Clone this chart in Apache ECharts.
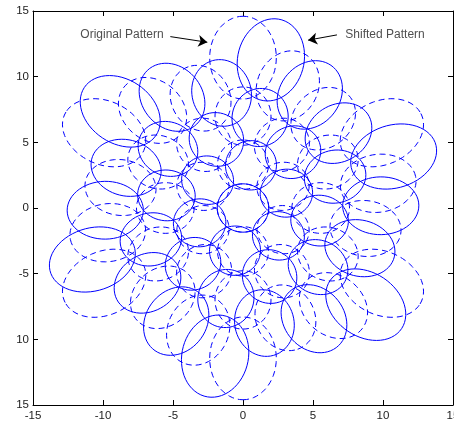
<!DOCTYPE html>
<html><head><meta charset="utf-8">
<script src="https://cdn.jsdelivr.net/npm/echarts@6/dist/echarts.min.js"></script>
<style>html,body{margin:0;padding:0;background:#fff;}#c{width:454px;height:421px;}</style>
</head><body><div id="c"></div>
<script>
// Axis ticks
const xTicks = [-15, -10, -5, 0, 5, 10, 15];
const xTickLabels = ['-15', '-10', '-5', '0', '5', '10', '15'];
const yTicks = [-15, -10, -5, 0, 5, 10, 15];
const yTickLabels = ['15', '10', '-5', '0', '5', '10', '15'];

// Shifted pattern (solid ellipses): centre, radial / tangential semi-axes, radial direction (deg)
const shiftedX = [0,
  3.10, 0.57, -2.53, -3.10, -0.57, 2.53,
  6.58, 1.22, -5.36, -6.58, -1.22, 5.36,
  3.57, -1.90, -5.47, -3.57, 1.90, 5.47,
  10.76, 1.99, -8.77, -10.76, -1.99, 8.77,
  6.82, -1.53, -8.35, -6.82, 1.53, 8.35,
  4.77, -5.07, -9.84, -4.77, 5.07, 9.84];
const shiftedY = [0,
  1.13, 3.25, 2.12, -1.13, -3.25, -2.12,
  2.39, 6.89, 4.50, -2.39, -6.89, -4.50,
  4.25, 5.22, 0.96, -4.25, -5.22, -0.96,
  3.92, 11.28, 7.36, -3.92, -11.28, -7.36,
  5.70, 8.76, 3.06, -5.70, -8.76, -3.06,
  8.61, 8.43, -0.17, -8.61, -8.43, 0.17];
const shiftedRadial = [1.84,
  1.88, 1.88, 1.88, 1.88, 1.88, 1.88,
  2.22, 2.22, 2.22, 2.22, 2.22, 2.22,
  2.06, 2.06, 2.06, 2.06, 2.06, 2.06,
  3.15, 3.15, 3.15, 3.15, 3.15, 3.15,
  2.55, 2.55, 2.55, 2.55, 2.55, 2.55,
  2.72, 2.72, 2.72, 2.72, 2.72, 2.72];
const shiftedTangential = [1.84,
  1.82, 1.82, 1.82, 1.82, 1.82, 1.82,
  2.00, 2.00, 2.00, 2.00, 2.00, 2.00,
  1.93, 1.93, 1.93, 1.93, 1.93, 1.93,
  2.38, 2.38, 2.38, 2.38, 2.38, 2.38,
  2.12, 2.12, 2.12, 2.12, 2.12, 2.12,
  2.20, 2.20, 2.20, 2.20, 2.20, 2.20];
const shiftedAngle = [0,
  20, 80, 140, 200, 260, 320,
  20, 80, 140, 200, 260, 320,
  50, 110, 170, 230, 290, 350,
  20, 80, 140, 200, 260, 320,
  40, 100, 160, 220, 280, 340,
  61, 121, 181, 241, 301, 1];

// Original pattern (dashed ellipses)
const originalX = [0,
  2.86, 0, -2.86, -2.86, 0, 2.86,
  6.06, 0, -6.06, -6.06, 0, 6.06,
  2.78, -2.78, -5.55, -2.78, 2.78, 5.55,
  9.92, 0, -9.92, -9.92, 0, 9.92,
  5.73, -3.03, -8.75, -5.73, 3.03, 8.75,
  3.20, -6.46, -9.66, -3.20, 6.46, 9.66];
const originalY = [0,
  1.65, 3.30, 1.65, -1.65, -3.30, -1.65,
  3.50, 7.00, 3.50, -3.50, -7.00, -3.50,
  4.81, 4.81, 0, -4.81, -4.81, 0,
  5.73, 11.45, 5.73, -5.73, -11.45, -5.73,
  6.80, 8.36, 1.56, -6.80, -8.36, -1.56,
  9.30, 7.43, -1.88, -9.30, -7.43, 1.88];
const originalRadial = shiftedRadial.slice();
const originalTangential = shiftedTangential.slice();
const originalAngle = [0,
  30, 90, 150, 210, 270, 330,
  30, 90, 150, 210, 270, 330,
  60, 120, 180, 240, 300, 0,
  30, 90, 150, 210, 270, 330,
  50, 110, 170, 230, 290, 350,
  71, 131, 191, 251, 311, 11];

// Annotations
const noteNames = ['Original Pattern', 'Shifted Pattern'];
const noteX = [-11.62, 7.31];
const noteY = [13.2, 13.2];
const arrowFromX = [-5.19, 6.71];
const arrowFromY = [13.05, 13.18];
const arrowToX = [-2.55, 4.65];
const arrowToY = [12.62, 12.78];

const FONT = 'Liberation Sans, Arial, Helvetica, sans-serif';
const chart = echarts.init(document.getElementById('c'), null, {renderer: 'canvas'});

function ellipseSeries(name, xs, ys, ra, ta, ang, dash) {
  return {
    type: 'custom', name: name, xAxisIndex: 0, yAxisIndex: 0,
    silent: true, animation: false, clip: true,
    data: xs.map((x, i) => [x, ys[i], ra[i], ta[i], ang[i]]),
    encode: {x: 0, y: 1},
    renderItem: function (params, api) {
      const cx = api.value(0), cy = api.value(1), a = api.value(2), b = api.value(3);
      const phi = api.value(4) * Math.PI / 180;
      const pts = [];
      const N = 60;
      for (let k = 0; k < N; k++) {
        const t = 2 * Math.PI * k / N;
        const lx = a * Math.cos(t), ly = b * Math.sin(t);
        pts.push(api.coord([cx + lx * Math.cos(phi) - ly * Math.sin(phi),
                            cy + lx * Math.sin(phi) + ly * Math.cos(phi)]));
      }
      return {type: 'polygon', shape: {points: pts},
        style: {fill: 'none', stroke: '#0000ff', lineWidth: 1, lineDash: dash}};
    }
  };
}

function yLabel(v) { const i = yTicks.indexOf(v); return i >= 0 ? yTickLabels[i] : ''; }
function xLabel(v) { const i = xTicks.indexOf(v); return i >= 0 ? xTickLabels[i] : ''; }

const axisCommon = {
  min: -15, max: 15, interval: 5,
  splitLine: {show: false},
  axisLine: {show: true, onZero: false, lineStyle: {color: '#000', width: 1}},
  axisTick: {show: true, inside: true, length: 5, lineStyle: {color: '#000'}}
};

chart.setOption({
  animation: false,
  backgroundColor: '#fff',
  grid: {left: 33, top: 11, width: 420, height: 394, containLabel: false, outerBoundsMode: 'none'},
  xAxis: [
    Object.assign({type: 'value', position: 'bottom',
      axisLabel: {fontSize: 11.5, color: '#222', fontFamily: FONT, margin: 5, formatter: xLabel, showMaxLabel: true, showMinLabel: true, hideOverlap: false}}, axisCommon),
    Object.assign({type: 'value', position: 'top', axisLabel: {show: false}}, axisCommon)
  ],
  yAxis: [
    Object.assign({type: 'value', position: 'left',
      axisLabel: {fontSize: 11.5, color: '#222', fontFamily: FONT, margin: 4, formatter: yLabel, showMaxLabel: true, showMinLabel: true, hideOverlap: false}}, axisCommon),
    Object.assign({type: 'value', position: 'right', axisLabel: {show: false}}, axisCommon)
  ],
  series: [
    ellipseSeries('Original Pattern', originalX, originalY, originalRadial, originalTangential, originalAngle, [6, 4]),
    ellipseSeries('Shifted Pattern', shiftedX, shiftedY, shiftedRadial, shiftedTangential, shiftedAngle, null),
    {
      type: 'scatter', xAxisIndex: 0, yAxisIndex: 0, symbolSize: 0, silent: true,
      data: noteNames.map((n, i) => ({name: n, value: [noteX[i], noteY[i]]})),
      label: {show: true, position: 'right', distance: 0, formatter: '{b}', fontSize: 12, color: '#222', fontFamily: FONT},
      markLine: {
        silent: true, animation: false,
        symbol: ['none', 'arrow'], symbolSize: 9,
        label: {show: false},
        lineStyle: {color: '#000', width: 1, type: 'solid'},
        data: arrowFromX.map((x, i) => [{coord: [x, arrowFromY[i]]}, {coord: [arrowToX[i], arrowToY[i]]}])
      }
    }
  ]
});
</script>
</body></html>
